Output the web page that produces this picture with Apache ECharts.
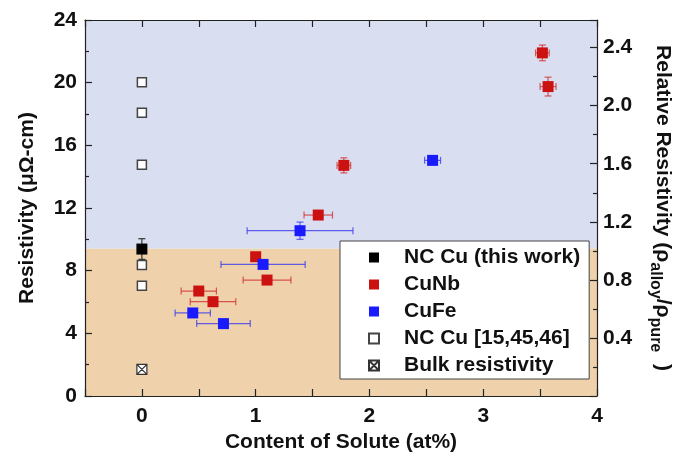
<!DOCTYPE html>
<html>
<head>
<meta charset="utf-8">
<script src="https://cdn.jsdelivr.net/npm/echarts@6/dist/echarts.min.js"></script>
<style>
  html, body { margin: 0; padding: 0; background: #fff; }
  #chart { width: 684px; height: 462px; }
</style>
</head>
<body>
<div id="chart"></div>
<script>
'use strict';

// data
var thisWorkX = [0];
var thisWorkY = [9.38];
var thisWorkXErr = [0];
var thisWorkYErr = [0.66];

var cuNbX = [3.52, 3.57, 1.775, 1.55, 1.0, 1.10, 0.50, 0.625];
var cuNbY = [21.9, 19.75, 14.72, 11.55, 8.89, 7.40, 6.70, 6.02];
var cuNbXErr = [0.06, 0.07, 0.06, 0.125, 0, 0.21, 0.155, 0.2];
var cuNbYErr = [0.5, 0.6, 0.48, 0, 0, 0, 0, 0];

var cuFeX = [2.555, 1.39, 1.065, 0.447, 0.717];
var cuFeY = [15.04, 10.55, 8.40, 5.30, 4.62];
var cuFeXErr = [0.07, 0.465, 0.37, 0.155, 0.235];
var cuFeYErr = [0, 0.55, 0, 0, 0];

var litX = [0, 0, 0, 0, 0];
var litY = [20.03, 18.08, 14.76, 8.36, 7.04];

var bulkX = [0];
var bulkY = [1.70];

var bandSplit = 9.4;
var rightMax = 2.59;

var names = ['NC Cu (this work)', 'CuNb', 'CuFe', 'NC Cu [15,45,46]', 'Bulk resistivity'];
var font = 'Liberation Sans, Arial, sans-serif';
var crossPath = 'path://M0,0L10,0L10,10L0,10Z M0,0L10,10 M10,0L0,10';

function pts(xs, ys) {
  var out = [];
  for (var i = 0; i < xs.length; i++) out.push([xs[i], ys[i]]);
  return out;
}
function errPts(xs, ys, ex, ey) {
  var out = [];
  for (var i = 0; i < xs.length; i++) out.push([xs[i], ys[i], ex[i], ey[i]]);
  return out;
}

function errorSeries(data, color) {
  return {
    type: 'custom',
    data: data,
    z: 3,
    silent: true,
    encode: { x: 0, y: 1 },
    renderItem: function (params, api) {
      var x = api.value(0), y = api.value(1), ex = api.value(2), ey = api.value(3);
      var st = { stroke: color, lineWidth: 1.2 };
      var kids = [];
      var cap = 3.5;
      if (ex > 0) {
        var a = api.coord([x - ex, y]), b = api.coord([x + ex, y]);
        kids.push({ type: 'line', shape: { x1: a[0], y1: a[1], x2: b[0], y2: b[1] }, style: st });
        kids.push({ type: 'line', shape: { x1: a[0], y1: a[1] - cap, x2: a[0], y2: a[1] + cap }, style: st });
        kids.push({ type: 'line', shape: { x1: b[0], y1: b[1] - cap, x2: b[0], y2: b[1] + cap }, style: st });
      }
      if (ey > 0) {
        var c = api.coord([x, y - ey]), d = api.coord([x, y + ey]);
        kids.push({ type: 'line', shape: { x1: c[0], y1: c[1], x2: d[0], y2: d[1] }, style: st });
        kids.push({ type: 'line', shape: { x1: c[0] - cap, y1: c[1], x2: c[0] + cap, y2: c[1] }, style: st });
        kids.push({ type: 'line', shape: { x1: d[0] - cap, y1: d[1], x2: d[0] + cap, y2: d[1] }, style: st });
      }
      return { type: 'group', children: kids };
    }
  };
}

var lineSt = { color: '#222', width: 1.2 };
var labelSt = { fontFamily: font, fontWeight: 'bold', fontSize: 21, color: '#111' };

var chart = echarts.init(document.getElementById('chart'));
var option = {
  backgroundColor: '#fff',
  animation: false,
  grid: { left: 85, right: 87, top: 20, bottom: 66 },
  legend: {
    orient: 'vertical',
    left: 340,
    top: 241,
    z: 10,
    data: [
      { name: names[0], icon: 'rect' },
      { name: names[1], icon: 'rect' },
      { name: names[2], icon: 'rect' },
      { name: names[3], icon: 'rect' },
      { name: names[4], icon: crossPath }
    ],
    itemWidth: 10,
    itemHeight: 10,
    itemGap: 6,
    padding: [6, 9, 3, 28],
    backgroundColor: '#fff',
    borderColor: '#444',
    borderWidth: 1,
    borderRadius: 0,
    selectedMode: false,
    textStyle: { fontFamily: font, fontWeight: 'bold', fontSize: 21, color: '#111', lineHeight: 21, padding: [0, 0, 0, 20] }
  },
  xAxis: [{
    type: 'value', min: -0.5, max: 4, interval: 0.5, z: 10,
    name: 'Content of Solute (at%)', nameLocation: 'middle', nameGap: 36,
    nameTextStyle: labelSt,
    axisLine: { onZero: false, lineStyle: lineSt },
    axisTick: { inside: true, length: 7, lineStyle: lineSt },
    axisLabel: {
      fontFamily: font, fontWeight: 'bold', fontSize: 21, color: '#111', margin: 10,
      formatter: function (v) { return (Math.abs(v - Math.round(v)) < 1e-6) ? String(Math.round(v)) : ''; }
    },
    splitLine: { show: false }
  }, {
    type: 'value', min: -0.5, max: 4, interval: 0.5, position: 'top', z: 10,
    axisLine: { show: true, onZero: false, lineStyle: lineSt },
    axisTick: { inside: true, length: 7, lineStyle: lineSt },
    axisLabel: { show: false },
    splitLine: { show: false }
  }],
  yAxis: [{
    type: 'value', min: 0, max: 24, interval: 4, z: 10,
    name: 'Resistivity (\u03bc\u03a9-cm)', nameLocation: 'middle', nameGap: 47,
    nameTextStyle: labelSt,
    axisLine: { show: true, onZero: false, lineStyle: lineSt },
    axisTick: { inside: true, length: 7, lineStyle: lineSt },
    minorTick: { show: true, splitNumber: 2, length: 4, lineStyle: lineSt },
    axisLabel: { fontFamily: font, fontWeight: 'bold', fontSize: 21, color: '#111', margin: 8 },
    splitLine: { show: false }
  }, {
    type: 'value', min: 0, max: rightMax, interval: 0.4, position: 'right', z: 10,
    name: '{n|Relative Resistivity (\u03c1}{s|alloy}{n|/\u03c1}{s|pure}{n|  )}',
    nameLocation: 'middle', nameGap: 50, nameRotate: -90,
    nameTextStyle: {
      fontFamily: font, fontSize: 21, color: '#111',
      rich: {
        n: { fontFamily: font, fontWeight: 'bold', fontSize: 21, color: '#111' },
        s: { fontFamily: font, fontWeight: 'bold', fontSize: 16, color: '#111', padding: [16, 0, 0, 0] }
      }
    },
    axisLine: { show: true, onZero: false, lineStyle: lineSt },
    axisTick: { inside: true, length: 7, lineStyle: lineSt },
    minorTick: { show: true, splitNumber: 2, length: 4, lineStyle: lineSt },
    axisLabel: {
      fontFamily: font, fontWeight: 'bold', fontSize: 21, color: '#111', margin: 6,
      showMaxLabel: false,
      formatter: function (v) { return v === 0 ? '' : v.toFixed(1); }
    },
    splitLine: { show: false }
  }],
  series: [
    {
      name: 'bands', type: 'scatter', data: [], silent: true, z: 1,
      markArea: {
        silent: true,
        data: [
          [{ yAxis: bandSplit, itemStyle: { color: '#d9dff0' } }, { yAxis: 24 }],
          [{ yAxis: 0, itemStyle: { color: '#efd1ab' } }, { yAxis: bandSplit }]
        ]
      }
    },
    errorSeries(errPts(thisWorkX, thisWorkY, thisWorkXErr, thisWorkYErr), '#333'),
    errorSeries(errPts(cuNbX, cuNbY, cuNbXErr, cuNbYErr), 'rgba(210,50,50,0.8)'),
    errorSeries(errPts(cuFeX, cuFeY, cuFeXErr, cuFeYErr), 'rgba(60,60,235,0.8)'),
    {
      name: names[0], type: 'scatter', z: 4, symbol: 'rect', symbolSize: 11,
      itemStyle: { color: '#000', opacity: 1 }, data: pts(thisWorkX, thisWorkY)
    },
    {
      name: names[1], type: 'scatter', z: 4, symbol: 'rect', symbolSize: 11,
      itemStyle: { color: '#cc1111', opacity: 1 }, data: pts(cuNbX, cuNbY)
    },
    {
      name: names[2], type: 'scatter', z: 4, symbol: 'rect', symbolSize: 11,
      itemStyle: { color: '#1a1aff', opacity: 1 }, data: pts(cuFeX, cuFeY)
    },
    {
      name: names[3], type: 'scatter', z: 4, symbol: 'rect', symbolSize: 9,
      itemStyle: { color: '#fff', borderColor: '#444', borderWidth: 1.5, opacity: 1 }, data: pts(litX, litY)
    },
    {
      name: names[4], type: 'scatter', z: 4, symbol: crossPath, symbolSize: 10,
      itemStyle: { color: '#fff', borderColor: '#333', borderWidth: 1.2, opacity: 1 }, data: pts(bulkX, bulkY)
    }
  ]
};
chart.setOption(option);
</script>
</body>
</html>
